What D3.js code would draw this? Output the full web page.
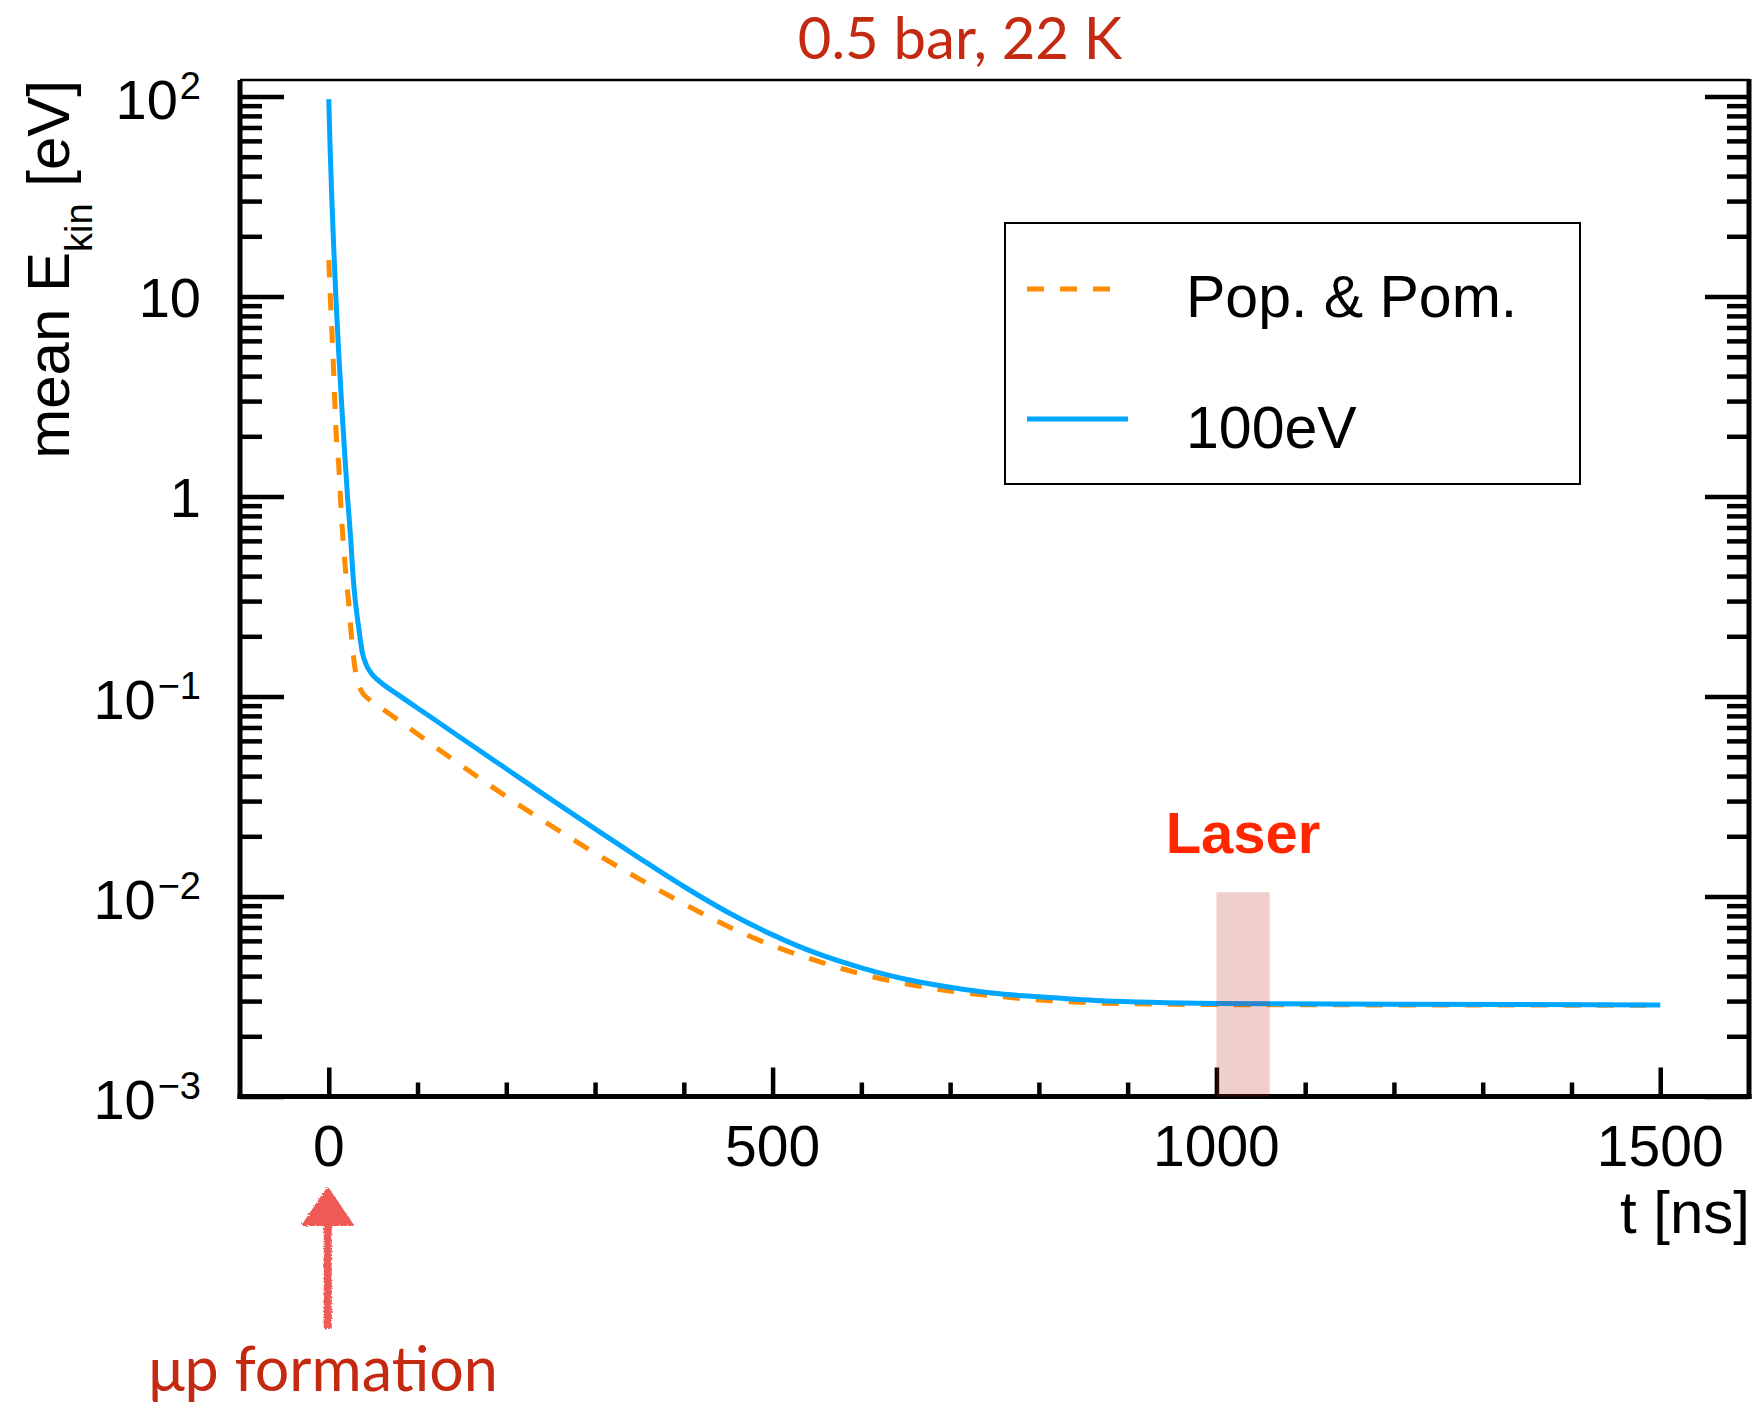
<!DOCTYPE html>
<html>
<head>
<meta charset="utf-8">
<script src="https://cdn.jsdelivr.net/npm/d3@7"></script>
<style>
  html, body { margin: 0; padding: 0; background: #fff; }
  svg { display: block; }
</style>
</head>
<body>
<svg id="chart"></svg>
<script>
// mean kinetic energy vs time
const tBlue = [0, 1.58, 3.49, 5.69, 8.0, 11.04, 14.2, 17.7, 21.4, 24.8, 27.4, 30.8, 33.5, 37.7, 42.3, 48.5, 55.2, 80, 114, 150, 200, 250, 300, 350, 400, 450, 500, 550, 600, 650, 700, 750, 800, 870, 1000, 1200, 1500];
const eBlue = [97, 54, 30.4, 17.08, 9.94, 5.4, 3.04, 1.708, 0.96, 0.606, 0.398, 0.277, 0.225, 0.167, 0.144, 0.1296, 0.121, 0.1007, 0.0794, 0.0617, 0.0435, 0.0307, 0.0218, 0.01556, 0.01122, 0.00832, 0.00643, 0.00519, 0.0044, 0.00386, 0.00352, 0.00328, 0.00315, 0.00301, 0.00292, 0.00289, 0.00287];

const tPop = [0, 1.75, 4.5, 8.7, 11.3, 13.5, 16.1, 19.2, 22.5, 25.6, 30.4, 36, 46.2, 60, 80, 130, 200, 250, 300, 350, 400, 450, 500, 550, 600, 650, 700, 750, 800, 870, 1000, 1200, 1500];
const ePop = [15.2, 9.94, 5.4, 1.92, 1.41, 0.925, 0.606, 0.413, 0.292, 0.199, 0.1306, 0.108, 0.096, 0.0871, 0.0752, 0.052, 0.0316, 0.02265, 0.01648, 0.01222, 0.0092, 0.00708, 0.00568, 0.00476, 0.0041, 0.00366, 0.00337, 0.00318, 0.00304, 0.00293, 0.00288, 0.00287, 0.00286];

const seriesNames = ["Pop. & Pom.", "100eV"];

const xMajor = [0, 500, 1000, 1500];
const xMinor = [100, 200, 300, 400, 600, 700, 800, 900, 1100, 1200, 1300, 1400];
const yLabelVals = [1e-3, 1e-2, 1e-1, 1, 10, 100];
const yLabelBase = ["10", "10", "10", "1", "10", "10"];
const yLabelExp = ["\u22123", "\u22122", "\u22121", "", "", "2"];

const laserWindow = [1000, 1060];
const laserTop = 0.0105;

const W = 1755, H = 1409;
const plotLeft = 240, plotRight = 1749, plotTop = 80, plotBottom = 1096.5;
const font = "'Liberation Sans', Arial, Helvetica, sans-serif";
const noteFont = "Lato, 'Open Sans', sans-serif";
const blue = "#00a6ff", orange = "#ff8c00";

const svg = d3.select("#chart").attr("width", W).attr("height", H);

const x = d3.scaleLinear().domain([-100, 1600]).range([plotLeft, plotRight]);
const y = d3.scaleLog().domain([1e-3, Math.pow(10, 2.0825)]).range([plotBottom, plotTop]);

// minor y ticks 2..9 per decade
const yMinor = [];
for (let d = -3; d <= 1; d++) {
  for (let m = 2; m <= 9; m++) yMinor.push(m * Math.pow(10, d));
}

function styleTicks(g) {
  g.select(".domain").remove();
  g.selectAll("text").remove();
  g.selectAll("line").attr("stroke", "#000").attr("stroke-width", 4.5);
}

// left axis ticks (inside)
svg.append("g").attr("transform", `translate(${plotLeft},0)`)
  .call(d3.axisLeft(y).tickValues(yMinor).tickSize(-22).tickFormat("")).call(styleTicks);
svg.append("g").attr("transform", `translate(${plotLeft},0)`)
  .call(d3.axisLeft(y).tickValues(yLabelVals).tickSize(-44).tickFormat("")).call(styleTicks);
// right axis ticks (inside)
svg.append("g").attr("transform", `translate(${plotRight},0)`)
  .call(d3.axisRight(y).tickValues(yMinor).tickSize(-22).tickFormat("")).call(styleTicks);
svg.append("g").attr("transform", `translate(${plotRight},0)`)
  .call(d3.axisRight(y).tickValues(yLabelVals).tickSize(-44).tickFormat("")).call(styleTicks);
// bottom ticks
svg.append("g").attr("transform", `translate(0,${plotBottom})`)
  .call(d3.axisBottom(x).tickValues(xMinor).tickSize(-14).tickFormat("")).call(styleTicks);
svg.append("g").attr("transform", `translate(0,${plotBottom})`)
  .call(d3.axisBottom(x).tickValues(xMajor).tickSize(-29).tickFormat("")).call(styleTicks);

// frame
svg.append("line").attr("x1", plotLeft).attr("x2", plotRight).attr("y1", plotTop).attr("y2", plotTop)
  .attr("stroke", "#000").attr("stroke-width", 2.5);
svg.append("line").attr("x1", plotLeft).attr("x2", plotLeft).attr("y1", plotTop).attr("y2", plotBottom + 2.5)
  .attr("stroke", "#000").attr("stroke-width", 5);
svg.append("line").attr("x1", plotRight).attr("x2", plotRight).attr("y1", plotTop - 1).attr("y2", plotBottom + 2.5)
  .attr("stroke", "#000").attr("stroke-width", 5);
svg.append("line").attr("x1", plotLeft - 2.5).attr("x2", plotRight + 2.5).attr("y1", plotBottom).attr("y2", plotBottom)
  .attr("stroke", "#000").attr("stroke-width", 5);

// tick labels
svg.append("g").selectAll("text").data(xMajor).join("text")
  .attr("x", d => x(d)).attr("y", 1166)
  .attr("text-anchor", "middle")
  .style("font", `57px ${font}`)
  .text(d => d);

const yl = svg.append("g").selectAll("text").data(yLabelVals).join("text")
  .attr("x", 201)
  .attr("y", (d, i) => y(d) + (yLabelExp[i] ? 22 : 20))
  .attr("text-anchor", "end")
  .style("font", `56px ${font}`);
yl.append("tspan").text((d, i) => yLabelBase[i]);
yl.filter((d, i) => yLabelExp[i] !== "").append("tspan")
  .attr("dy", -20).attr("dx", 2)
  .style("font-size", "38px")
  .text(d => yLabelExp[yLabelVals.indexOf(d)]);

// axis titles
const yt = svg.append("text")
  .attr("transform", "translate(69,80) rotate(-90)")
  .attr("text-anchor", "end")
  .style("font", `60px ${font}`);
yt.append("tspan").text("mean E");
yt.append("tspan").attr("dy", 23).style("font-size", "38px").text("kin");
yt.append("tspan").attr("dy", -23).text(" [eV]");

svg.append("text")
  .attr("x", 1750).attr("y", 1233)
  .attr("text-anchor", "end")
  .style("font", `60px ${font}`)
  .text("t [ns]");

// curves
const line = d3.line()
  .x(d => x(d[0]))
  .y(d => y(d[1]))
  .curve(d3.curveMonotoneX);

svg.append("path")
  .datum(tPop.map((t, i) => [t, ePop[i]]))
  .attr("d", line)
  .attr("fill", "none")
  .attr("stroke", orange)
  .attr("stroke-width", 5)
  .attr("stroke-dasharray", "17,16");

svg.append("path")
  .datum(tBlue.map((t, i) => [t, eBlue[i]]))
  .attr("d", line)
  .attr("fill", "none")
  .attr("stroke", blue)
  .attr("stroke-width", 5);

// laser window
svg.append("rect")
  .attr("x", x(laserWindow[0]))
  .attr("width", x(laserWindow[1]) - x(laserWindow[0]))
  .attr("y", y(laserTop))
  .attr("height", y(1e-3) - y(laserTop))
  .attr("fill", "rgb(188,31,18)")
  .attr("opacity", 0.22);

svg.append("text")
  .attr("x", x(1030)).attr("y", 853)
  .attr("text-anchor", "middle")
  .attr("fill", "#ff2600")
  .style("font", `bold 58px ${font}`)
  .text("Laser");

// legend
const lg = svg.append("g");
lg.append("rect")
  .attr("x", 1005).attr("y", 223).attr("width", 575).attr("height", 261)
  .attr("fill", "#fff").attr("stroke", "#000").attr("stroke-width", 2);
lg.append("line").attr("x1", 1027).attr("x2", 1112).attr("y1", 289).attr("y2", 289)
  .attr("stroke", orange).attr("stroke-width", 5).attr("stroke-dasharray", "17,16");
lg.append("line").attr("x1", 1027).attr("x2", 1128).attr("y1", 419).attr("y2", 419)
  .attr("stroke", blue).attr("stroke-width", 5);
lg.selectAll("text.lab").data(seriesNames).join("text")
  .attr("class", "lab")
  .attr("x", 1186)
  .attr("y", (d, i) => [317, 448][i])
  .style("font", `59px ${font}`)
  .text(d => d);

// title
svg.append("text")
  .attr("x", 960).attr("y", 59)
  .attr("text-anchor", "middle")
  .attr("fill", "#c42a12")
  .style("font", `58px ${noteFont}`)
  .text("0.5 bar, 22 K");

// formation arrow (hand drawn look)
const defs = svg.append("defs");
const f = defs.append("filter").attr("id", "rough").attr("x", "-20%").attr("y", "-10%").attr("width", "140%").attr("height", "120%");
f.append("feTurbulence").attr("type", "fractalNoise").attr("baseFrequency", 0.6).attr("numOctaves", 2).attr("result", "n");
f.append("feDisplacementMap").attr("in", "SourceGraphic").attr("in2", "n").attr("scale", 4);

const ax = x(0) - 1;
const arrow = svg.append("g").attr("filter", "url(#rough)").attr("fill", "#ee5a55").attr("stroke", "#ee5a55");
arrow.append("line").attr("x1", ax).attr("x2", ax).attr("y1", 1329).attr("y2", 1222)
  .attr("stroke-width", 8);
arrow.append("path")
  .attr("d", `M${ax},1188 L${ax - 25},1225 L${ax + 25},1225 Z`)
  .attr("stroke-width", 2).attr("stroke-linejoin", "round");

svg.append("text")
  .attr("x", 323).attr("y", 1391)
  .attr("text-anchor", "middle")
  .attr("fill", "#c42a12")
  .style("font", `61px ${noteFont}`)
  .text("\u03bcp formation");
</script>
</body>
</html>
